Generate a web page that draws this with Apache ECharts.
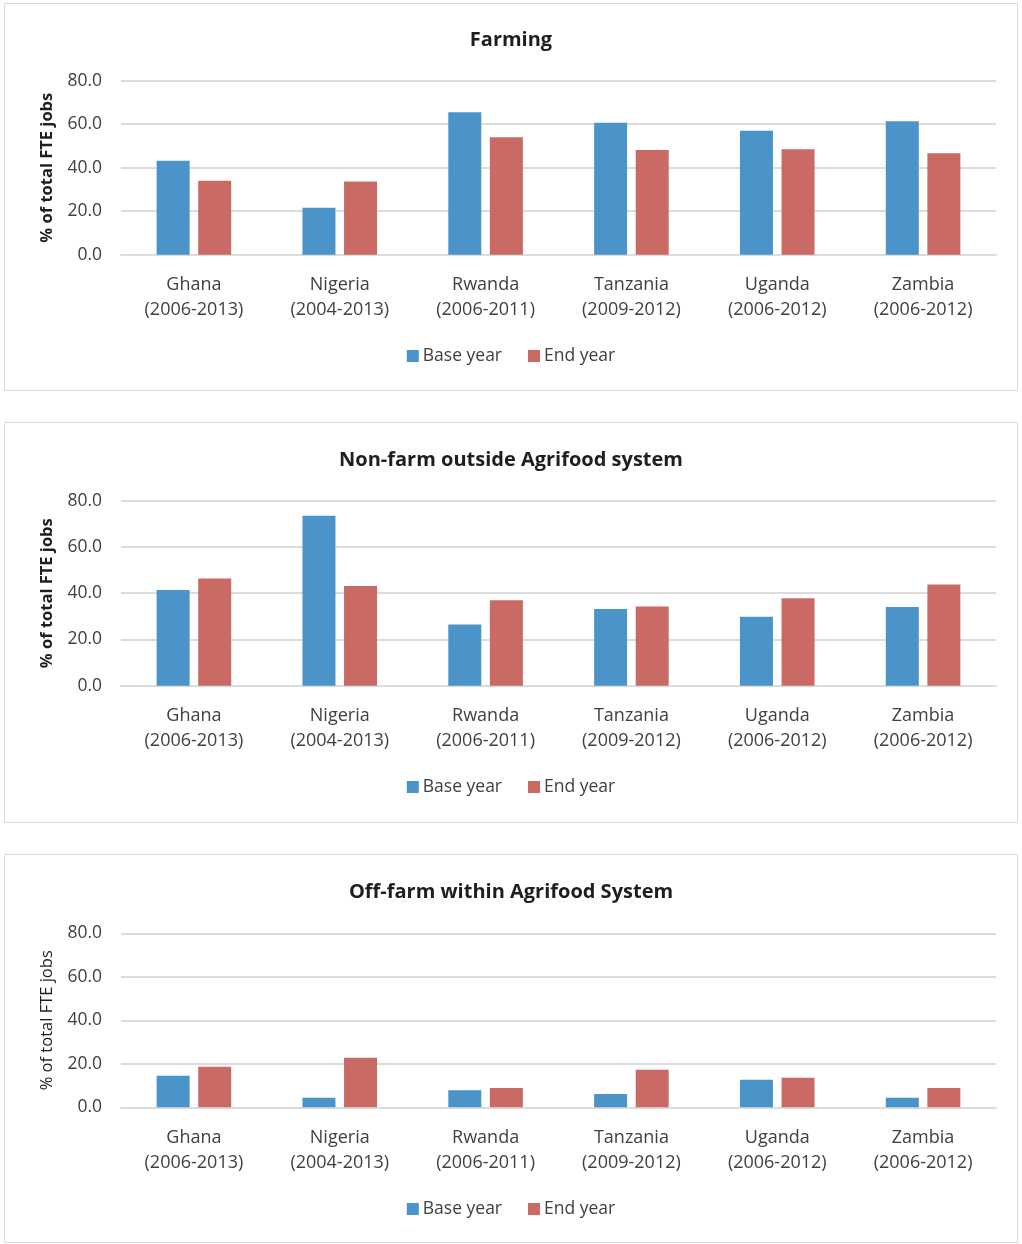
<!DOCTYPE html>
<html>
<head>
<meta charset="utf-8">
<script src="https://cdn.jsdelivr.net/npm/echarts@6/dist/echarts.min.js"></script>
<style>
  html, body { margin: 0; padding: 0; background: #fff; }
  #chart { width: 1022px; height: 1244px; }
</style>
</head>
<body>
<div id="chart"></div>
<script>
// Categories and labels
const countries = ['Ghana', 'Nigeria', 'Rwanda', 'Tanzania', 'Uganda', 'Zambia'];
const periods = ['(2006-2013)', '(2004-2013)', '(2006-2011)', '(2009-2012)', '(2006-2012)', '(2006-2012)'];
const seriesNames = ['Base year', 'End year'];
const panelTitles = ['Farming', 'Non-farm outside Agrifood system', 'Off-farm within Agrifood System'];
const yAxisTitle = '% of total FTE jobs';
const yTicks = [0, 20, 40, 60, 80];

// Share of total FTE jobs (%)
const farmingBase = [43.2, 21.6, 65.5, 60.7, 57.0, 61.3];
const farmingEnd = [34.0, 33.6, 54.0, 48.1, 48.5, 46.6];
const nonFarmBase = [41.4, 73.5, 26.5, 33.2, 29.8, 34.0];
const nonFarmEnd = [46.4, 43.1, 36.9, 34.3, 37.8, 43.8];
const offFarmBase = [14.5, 4.4, 7.8, 6.1, 12.7, 4.4];
const offFarmEnd = [18.7, 22.8, 8.9, 17.3, 13.6, 8.9];

const panelData = [
  [farmingBase, farmingEnd],
  [nonFarmBase, nonFarmEnd],
  [offFarmBase, offFarmEnd]
];

const FONT = 'Open Sans';
const BLUE = '#4a94c9';
const RED = '#c96a65';
const GRID_LINE = '#dcdcdc';

// Panel frames and plot areas
const frames = [
  { top: 3, bottom: 390 },
  { top: 422, bottom: 822 },
  { top: 854, bottom: 1242 }
];
const plots = [
  { top: 80.7, height: 174, titleY: 25, legendY: 342, nameBold: true },
  { top: 500.7, height: 185, titleY: 445, legendY: 773, nameBold: true },
  { top: 933.3, height: 174, titleY: 877, legendY: 1195, nameBold: false }
];

const catLabels = countries.map((c, i) => c + '\n' + periods[i]);

const option = {
  animation: false,
  backgroundColor: '#fff',
  textStyle: { fontFamily: FONT },
  graphic: frames.map(f => ({
    type: 'rect',
    shape: { x: 4.5, y: f.top + 0.5, width: 1013, height: f.bottom - f.top },
    style: { fill: 'none', stroke: '#d9d9d9', lineWidth: 1 },
    silent: true
  })),
  title: plots.map((p, i) => ({
    text: panelTitles[i],
    left: 'center',
    top: p.titleY,
    textStyle: { fontFamily: FONT, fontWeight: 'bold', fontSize: 20, color: '#1e1e1e' }
  })),
  legend: plots.map(p => ({
    data: seriesNames,
    left: 'center',
    top: p.legendY,
    itemWidth: 12,
    itemHeight: 12,
    itemGap: 26,
    icon: 'rect',
    textStyle: { fontFamily: FONT, fontSize: 17.5, color: '#404040', padding: [0, 0, 0, -1] }
  })),
  grid: plots.map(p => ({ left: 121, width: 875, top: p.top, height: p.height })),
  xAxis: plots.map((p, i) => ({
    type: 'category',
    gridIndex: i,
    data: catLabels,
    axisTick: { show: false },
    axisLine: { show: true, lineStyle: { color: GRID_LINE, width: 2 } },
    axisLabel: {
      margin: 18,
      fontFamily: FONT,
      fontSize: 18,
      color: '#404040',
      lineHeight: 25,
      interval: 0
    }
  })),
  yAxis: plots.map((p, i) => ({
    type: 'value',
    gridIndex: i,
    min: yTicks[0],
    max: yTicks[yTicks.length - 1],
    interval: yTicks[1] - yTicks[0],
    name: yAxisTitle,
    nameLocation: 'middle',
    nameGap: 65,
    nameTextStyle: {
      fontFamily: FONT,
      fontSize: 16.5,
      fontWeight: p.nameBold ? 'bold' : 'normal',
      color: '#1e1e1e'
    },
    axisLine: { show: false },
    axisTick: { show: false },
    splitLine: { lineStyle: { color: GRID_LINE, width: 2 } },
    axisLabel: {
      margin: 19,
      fontFamily: FONT,
      fontSize: 17.5,
      color: '#404040',
      formatter: v => v.toFixed(1)
    }
  })),
  series: []
};

panelData.forEach((pair, i) => {
  pair.forEach((vals, j) => {
    option.series.push({
      type: 'bar',
      name: seriesNames[j],
      xAxisIndex: i,
      yAxisIndex: i,
      data: vals,
      barWidth: 33,
      barGap: '26%',
      itemStyle: { color: j === 0 ? BLUE : RED }
    });
  });
});

const chart = echarts.init(document.getElementById('chart'), null, { renderer: 'canvas' });
chart.setOption(option);
</script>
</body>
</html>
